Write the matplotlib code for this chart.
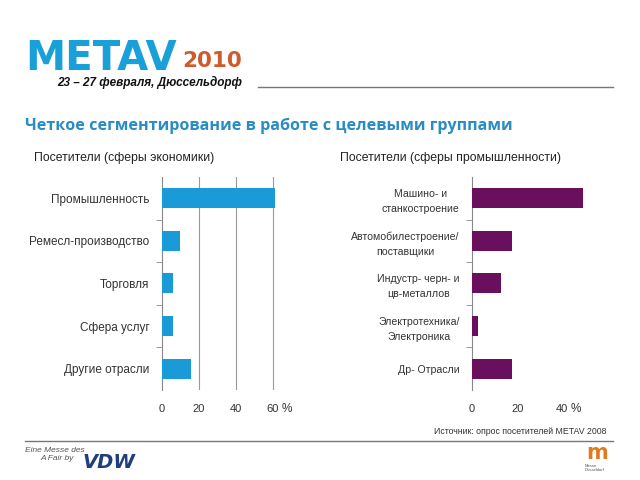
import matplotlib.pyplot as plt
from matplotlib.ticker import FixedLocator

# Data
econ_labels = ['Промышленность', 'Ремесл-производство', 'Торговля',
               'Сфера услуг', 'Другие отрасли']
econ_values = [61.5, 9.7, 6.0, 6.0, 15.7]
econ_ticks = [0, 20, 40, 60]

ind_labels = ['Машино- и\nстанкостроение', 'Автомобилестроение/\nпоставщики',
              'Индустр- черн- и\nцв-металлов', 'Электротехника/\nЭлектроника',
              'Др- Отрасли']
ind_values = [49.3, 17.8, 12.9, 2.7, 17.8]
ind_ticks = [0, 20, 40]

BLUE = '#1a9ad6'
PURPLE = '#690f5e'
TITLE_BLUE = '#2a8cc4'

plt.rcParams['font.family'] = ['Liberation Sans', 'DejaVu Sans']

fig = plt.figure(figsize=(6.4, 4.8), dpi=100)


def draw_panel(rect, labels, values, ticks, xmax, color, grid, label_size):
    ax = fig.add_axes(rect)
    pos = list(range(len(labels)))
    ax.barh(pos, values, height=0.47, color=color, zorder=3)
    ax.set_ylim(len(labels) - 0.5, -0.5)
    ax.set_xlim(0, xmax)
    ax.set_yticks(pos)
    ax.set_yticklabels(labels, fontsize=label_size, color='#333333',
                       multialignment='center', linespacing=1.6)
    ax.tick_params(axis='y', length=0, pad=9)
    ax.yaxis.set_minor_locator(FixedLocator([p + 0.5 for p in pos[:-1]]))
    ax.tick_params(axis='y', which='minor', length=4, color='#888888', direction='out')
    ax.set_xticks(ticks)
    ax.set_xticklabels([str(t) for t in ticks], fontsize=8, color='#333333')
    ax.tick_params(axis='x', length=0, pad=10)
    for s in ['top', 'right', 'bottom']:
        ax.spines[s].set_visible(False)
    ax.spines['left'].set_color('#888888')
    ax.spines['left'].set_linewidth(0.8)
    if grid:
        for t in ticks[1:]:
            ax.axvline(t, color='#999999', lw=0.8, zorder=1)
    return ax


ax1 = draw_panel([0.253, 0.1875, 0.1875, 0.444], econ_labels, econ_values,
                 econ_ticks, 65, BLUE, True, 8.5)
ax2 = draw_panel([0.7375, 0.1875, 0.194, 0.444], ind_labels, ind_values,
                 ind_ticks, 55, PURPLE, False, 7.6)

# % signs after the last tick
fig.text(287 / 640, 1 - 409 / 480, '%', fontsize=8.5, color='#333333', ha='center', va='center')
fig.text(576 / 640, 1 - 409 / 480, '%', fontsize=8.5, color='#333333', ha='center', va='center')

# panel headings
fig.text(34 / 640, 1 - 158 / 480, 'Посетители (сферы экономики)', fontsize=8.8, color='#222222', va='center')
fig.text(340 / 640, 1 - 158 / 480, 'Посетители (сферы промышленности)', fontsize=8.8, color='#222222', va='center')

# header
fig.text(25 / 640, 1 - 70 / 480, 'METAV', fontsize=29, fontweight='bold', color='#1aa0d8',
         family=['DejaVu Sans'], va='baseline')
fig.text(182 / 640, 1 - 67 / 480, '2010', fontsize=15.5, fontweight='bold', color='#cf5a2c',
         family=['DejaVu Sans'], va='baseline')
fig.text(57 / 640, 1 - 82.5 / 480, '23 – 27 февраля, Дюссельдорф', fontsize=8.5, style='italic',
         fontweight='bold', color='#111111', va='center')
fig.add_artist(plt.Line2D([258 / 640, 613 / 640], [1 - 87 / 480] * 2, color='#777777', lw=1))
fig.text(25 / 640, 1 - 126 / 480, 'Четкое сегментирование в работе с целевыми группами',
         fontsize=11.6, fontweight='bold', color=TITLE_BLUE, family=['Open Sans', 'DejaVu Sans'],
         va='center')

# footer
fig.text(606 / 640, 1 - 432 / 480, 'Источник: опрос посетителей METAV 2008', fontsize=6.3,
         color='#333333', ha='right', va='center')
fig.add_artist(plt.Line2D([25 / 640, 613 / 640], [1 - 441 / 480] * 2, color='#777777', lw=1))
fig.text(25 / 640, 1 - 450 / 480, 'Eine Messe des', fontsize=6, style='italic', color='#555555', va='center')
fig.text(40 / 640, 1 - 459 / 480, 'A Fair by', fontsize=6, style='italic', color='#555555', va='center')
fig.text(83 / 640, 1 - 468 / 480, 'VDW', fontsize=14, style='italic', fontweight='heavy',
         color='#1f3f7a', family=['DejaVu Sans'], va='baseline')
fig.text(597 / 640, 1 - 459 / 480, 'm', fontsize=15, fontweight='bold', color='#e07a1f',
         family=['DejaVu Sans'], ha='center', va='baseline')
fig.text(585 / 640, 1 - 468 / 480, 'Messe\nDüsseldorf', fontsize=3, color='#555555',
         ha='left', va='center')

fig.savefig('out.png', dpi=100)
